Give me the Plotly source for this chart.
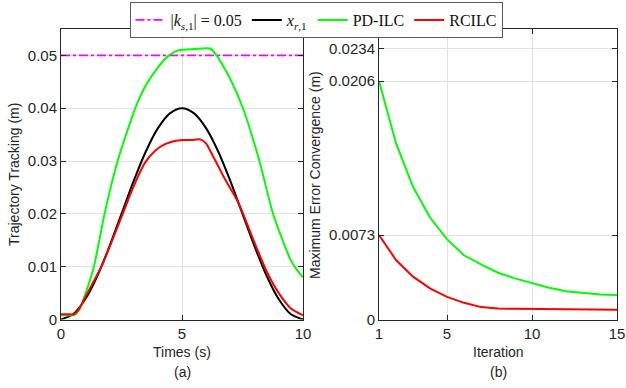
import plotly.graph_objects as go

# ---- Data ----
t_ref = [0, 0.5, 1, 1.5, 2, 2.5, 3, 3.5, 4, 4.5, 5, 5.5, 6, 6.5, 7, 7.5, 8, 8.5, 9, 9.5, 10]
x_r1 = [0, 0.00098, 0.00382, 0.00824, 0.01382, 0.02, 0.02618, 0.03176, 0.03618, 0.03902, 0.04,
        0.03902, 0.03618, 0.03176, 0.02618, 0.02, 0.01382, 0.00824, 0.00382, 0.00098, 0]

t_rc = [0, 0.3, 0.55, 0.75, 1.0, 1.3, 1.67, 2.1, 2.55, 3.0, 3.46, 3.9, 4.3, 4.7, 5.0, 5.4, 5.75,
        6.0, 6.25, 6.5, 6.75, 7.0, 7.25, 7.5, 8.0, 8.5, 9.0, 9.5, 10]
rcilc = [0.0010, 0.0010, 0.0010, 0.0020, 0.0042, 0.0068, 0.0100, 0.0148, 0.0200, 0.0252, 0.0296,
         0.0320, 0.0332, 0.0338, 0.0340, 0.0340, 0.0341, 0.0333, 0.0312, 0.0290, 0.0268, 0.0248,
         0.0228, 0.0203, 0.0145, 0.0091, 0.0050, 0.0021, 0.0008]

t_pd = [0, 0.3, 0.55, 0.75, 0.98, 1.36, 1.80, 2.34, 3.07, 3.5, 4.0, 4.46, 4.87, 5.5, 6.16,
        6.43, 7.0, 7.52, 8.2, 8.75, 9.2, 9.5, 9.75, 10]
pdilc = [0.0008, 0.0008, 0.0009, 0.0018, 0.0045, 0.0100, 0.0200, 0.0300, 0.0400, 0.0443, 0.0477,
         0.0500, 0.0510, 0.0512, 0.0513, 0.0500, 0.0455, 0.0400, 0.0300, 0.0202, 0.0145, 0.0112,
         0.0094, 0.0080]

t_bound = [0, 10]
ks_bound = [0.05, 0.05]

iterations = list(range(1, 16))
err_pd = [0.0206, 0.01523, 0.01147, 0.00881, 0.00694, 0.00555, 0.00477, 0.00404, 0.00355,
          0.00312, 0.00274, 0.00245, 0.00228, 0.00217, 0.00211]
err_rc = [0.0073, 0.00514, 0.0037, 0.00269, 0.00196, 0.00144, 0.00107, 0.00095, 0.00093,
          0.00091, 0.00089, 0.00087, 0.00086, 0.00085, 0.00085]

left_yticks = [0, 0.01, 0.02, 0.03, 0.04, 0.05]
left_yticktext = ["0", "0.01", "0.02", "0.03", "0.04", "0.05"]
right_yticks = [0, 0.0073, 0.0206, 0.0234]
right_yticktext = ["0", "0.0073", "0.0206", "0.0234"]

W, H = 626, 388
TXT = "#262626"
SANS = "Liberation Sans, Arial, sans-serif"
SERIF = "Liberation Serif, DejaVu Serif, serif"

fig = go.Figure()
fig.add_trace(go.Scatter(x=t_bound, y=ks_bound, mode="lines",
                         line=dict(color="#ff00ff", width=1.6, dash="dashdot"),
                         name="|<i>k</i><sub><i>s</i>,1</sub>| = 0.05", xaxis="x", yaxis="y"))
fig.add_trace(go.Scatter(x=t_ref, y=x_r1, mode="lines",
                         line=dict(color="#000000", width=2, shape="spline", smoothing=0.8),
                         name="<i>x</i><sub><i>r</i>,1</sub>", xaxis="x", yaxis="y"))
fig.add_trace(go.Scatter(x=t_pd, y=pdilc, mode="lines",
                         line=dict(color="#00ff00", width=2, shape="spline", smoothing=0.6),
                         name="PD-ILC", xaxis="x", yaxis="y"))
fig.add_trace(go.Scatter(x=t_rc, y=rcilc, mode="lines",
                         line=dict(color="#ff0000", width=2, shape="spline", smoothing=0.6),
                         name="RCILC", xaxis="x", yaxis="y"))
fig.add_trace(go.Scatter(x=iterations, y=err_pd, mode="lines", line=dict(color="#00ff00", width=2),
                         showlegend=False, xaxis="x2", yaxis="y2"))
fig.add_trace(go.Scatter(x=iterations, y=err_rc, mode="lines", line=dict(color="#ff0000", width=2),
                         showlegend=False, xaxis="x2", yaxis="y2"))

ydom = [1 - 319.5 / H, 1 - 29 / H]
axis_common = dict(showline=True, linecolor=TXT, linewidth=1, mirror="allticks", automargin=False,
                   ticks="inside", ticklen=5, tickcolor=TXT, showgrid=True, gridcolor="#e2e2e2",
                   gridwidth=1, zeroline=False, tickfont=dict(family=SANS, size=15, color=TXT))

fig.update_layout(
    template="none",
    width=W, height=H,
    margin=dict(l=0, r=0, t=0, b=0, pad=0),
    paper_bgcolor="white", plot_bgcolor="white",
    xaxis=dict(domain=[61 / W, 303 / W], range=[0, 10], tickvals=[0, 5, 10], anchor="y", **axis_common),
    yaxis=dict(domain=ydom, range=[0, 0.055], tickvals=left_yticks, ticktext=left_yticktext,
               anchor="x", **axis_common),
    xaxis2=dict(domain=[379 / W, 617 / W], range=[1, 15], tickvals=[1, 5, 10, 15], anchor="y2", **axis_common),
    yaxis2=dict(domain=ydom, range=[0, 0.0251], tickvals=right_yticks, ticktext=right_yticktext,
                anchor="x2", **axis_common),
    legend=dict(orientation="h", x=316 / W, xanchor="center", y=1 - 2 / H, yanchor="top",
                bgcolor="white", bordercolor="#5a5a5a", borderwidth=1,
                font=dict(family=SERIF, size=16, color="#111111"),
                itemwidth=30, tracegroupgap=0),
    showlegend=True,
)

ann_font = dict(family=SANS, size=14, color=TXT)
annots = [
    dict(text="Trajectory Tracking (m)", x=14 / W, y=1 - 175 / H, textangle=-90),
    dict(text="Times (s)", x=182 / W, y=1 - 352 / H),
    dict(text="(a)", x=182 / W, y=1 - 372 / H),
    dict(text="Maximum Error Convergence (m)", x=315 / W, y=1 - 175 / H, textangle=-90),
    dict(text="Iteration", x=498 / W, y=1 - 352 / H),
    dict(text="(b)", x=498 / W, y=1 - 372 / H),
]
for a in annots:
    fig.add_annotation(xref="paper", yref="paper", showarrow=False, xanchor="center", yanchor="middle",
                       font=ann_font, **a)

fig.write_html(
    "out.html",
    config={"displayModeBar": False},
    post_script=("document.documentElement.style.margin='0px';"
                 "document.documentElement.style.overflow='hidden';"
                 "document.body.style.margin='0px';"
                 "document.body.style.padding='0px';"
                 "document.body.style.overflow='hidden';"),
)
